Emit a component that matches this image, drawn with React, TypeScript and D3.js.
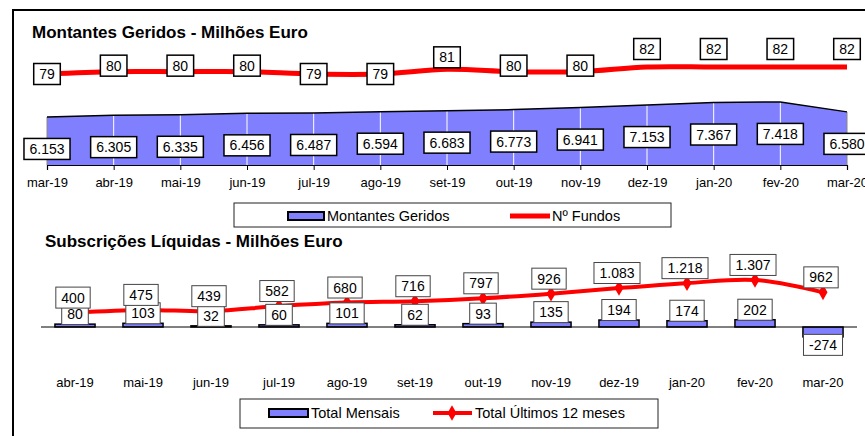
import { useEffect, useRef } from 'react';
import * as d3 from 'd3';

const monthsTop = ["mar-19", "abr-19", "mai-19", "jun-19", "jul-19", "ago-19", "set-19", "out-19", "nov-19", "dez-19", "jan-20", "fev-20", "mar-20"];
const montantesGeridos = [6153, 6305, 6335, 6456, 6487, 6594, 6683, 6773, 6941, 7153, 7367, 7418, 6580];
const numFundos = [79, 80, 80, 80, 79, 79, 81, 80, 80, 82, 82, 82, 82];

const monthsBottom = ["abr-19", "mai-19", "jun-19", "jul-19", "ago-19", "set-19", "out-19", "nov-19", "dez-19", "jan-20", "fev-20", "mar-20"];
const totalMensais = [80, 103, 32, 60, 101, 62, 93, 135, 194, 174, 202, -274];
const totalUltimos12 = [400, 475, 439, 582, 680, 716, 797, 926, 1083, 1218, 1307, 962];

const FONT = "'Liberation Sans', Arial, sans-serif";
const BLUE = "#8080FF";
const RED = "#FF0000";

const pt = d3.formatLocale({ decimal: ",", thousands: ".", grouping: [3], currency: ["", "€"], minus: "-" });
const fmt = pt.format(",d");

export default function App() {
  const svgRef = useRef<SVGSVGElement>(null);

  useEffect(() => {
    if (!svgRef.current) return;
    const svg = d3.select(svgRef.current);
    svg.selectAll("*").remove();

    const labelBox = (g: any, cx: number, cy: number, text: string, stroke: string, sw: number) => {
      const grp = g.append("g");
      const t = grp.append("text")
        .attr("x", cx).attr("y", cy).attr("dy", "0.36em")
        .attr("text-anchor", "middle")
        .attr("font-size", 14).attr("font-family", FONT)
        .text(text);
      const w = (t.node() as SVGTextElement).getComputedTextLength();
      grp.insert("rect", "text")
        .attr("x", cx - w / 2 - 5.5).attr("y", cy - 10.5)
        .attr("width", w + 11).attr("height", 21)
        .attr("fill", "#fff").attr("stroke", stroke).attr("stroke-width", sw);
    };

    // frame
    svg.append("rect").attr("x", 13).attr("y", 10).attr("width", 900).attr("height", 500)
      .attr("fill", "#fff").attr("stroke", "#000").attr("stroke-width", 2);

    // ---------- top chart ----------
    const top = svg.append("g");
    top.append("text").attr("x", 32).attr("y", 38)
      .attr("font-size", 17).attr("font-weight", "bold").attr("font-family", FONT)
      .text("Montantes Geridos - Milhões Euro");

    const x = d3.scalePoint<string>().domain(monthsTop).range([47, 847]);
    const yArea = d3.scaleLinear().domain([2108, 8000]).range([165, 95]);
    const yF = d3.scaleLinear().domain([79, 82]).range([74, 67]);

    const area = d3.area<number>()
      .x((_, i) => x(monthsTop[i])!)
      .y0(yArea(2108))
      .y1(d => yArea(d));
    top.append("path").datum(montantesGeridos).attr("d", area).attr("fill", BLUE);

    // vertical grid lines inside area
    montantesGeridos.forEach((v, i) => {
      const edge = i === 0 || i === montantesGeridos.length - 1;
      top.append("line")
        .attr("x1", x(monthsTop[i])!).attr("x2", x(monthsTop[i])!)
        .attr("y1", yArea(v)).attr("y2", yArea(2108))
        .attr("stroke", edge ? "#888" : "#fff").attr("stroke-width", 1);
    });

    const topLine = d3.line<number>()
      .x((_, i) => x(monthsTop[i])!)
      .y(d => yArea(d));
    top.append("path").datum(montantesGeridos).attr("d", topLine)
      .attr("fill", "none").attr("stroke", "#000").attr("stroke-width", 1.5);

    const ax = top.append("g").attr("transform", `translate(0,${yArea(2108)})`)
      .call(d3.axisBottom(x).tickSize(5).tickPadding(8));
    ax.select(".domain").attr("stroke", "#000").attr("stroke-width", 1.2);
    ax.selectAll(".tick line").attr("stroke", "#000");
    ax.selectAll(".tick text").attr("font-size", 13).attr("font-family", FONT).attr("fill", "#000");

    const fLine = d3.line<number>()
      .x((_, i) => x(monthsTop[i])!)
      .y(d => yF(d))
      .curve(d3.curveCatmullRom.alpha(0.5));
    top.append("path").datum(numFundos).attr("d", fLine)
      .attr("fill", "none").attr("stroke", RED).attr("stroke-width", 5);

    montantesGeridos.forEach((v, i) => {
      labelBox(top, x(monthsTop[i])!, yArea(v) + 32, fmt(v), "#000", 1.5);
    });
    numFundos.forEach((v, i) => {
      labelBox(top, x(monthsTop[i])!, yF(v) - (v - 79) * 6, fmt(v), "#000", 1.5);
    });

    // legend 1
    const lg1 = svg.append("g");
    lg1.append("rect").attr("x", 234).attr("y", 203).attr("width", 437).attr("height", 24)
      .attr("fill", "#fff").attr("stroke", "#222").attr("stroke-width", 1);
    lg1.append("rect").attr("x", 288).attr("y", 212).attr("width", 36).attr("height", 8)
      .attr("fill", BLUE).attr("stroke", "#000").attr("stroke-width", 2);
    lg1.append("text").attr("x", 327).attr("y", 221).attr("font-size", 14.5).attr("font-family", FONT)
      .text("Montantes Geridos");
    lg1.append("line").attr("x1", 510).attr("x2", 550).attr("y1", 216).attr("y2", 216)
      .attr("stroke", RED).attr("stroke-width", 5);
    lg1.append("text").attr("x", 552).attr("y", 221).attr("font-size", 14.5).attr("font-family", FONT)
      .text("Nº Fundos");

    // ---------- bottom chart ----------
    const bot = svg.append("g");
    bot.append("text").attr("x", 45).attr("y", 247)
      .attr("font-size", 17).attr("font-weight", "bold").attr("font-family", FONT)
      .text("Subscrições Líquidas - Milhões Euro");

    const x2 = d3.scaleBand<string>().domain(monthsBottom).range([41, 857])
      .paddingInner(0.41).paddingOuter(0.205);
    const y2 = d3.scaleLinear().domain([-500, 1500]).range([345, 273]);
    const cx2 = (m: string) => x2(m)! + x2.bandwidth() / 2;

    bot.selectAll(".bar").data(totalMensais).enter().append("rect")
      .attr("x", (_, i) => x2(monthsBottom[i])!)
      .attr("y", d => y2(Math.max(0, d)))
      .attr("width", x2.bandwidth())
      .attr("height", d => Math.abs(y2(d) - y2(0)))
      .attr("fill", BLUE).attr("stroke", "#000").attr("stroke-width", 1.5);

    bot.append("line").attr("x1", x2.range()[0]).attr("x2", x2.range()[1])
      .attr("y1", y2(0)).attr("y2", y2(0)).attr("stroke", "#000").attr("stroke-width", 1);

    const ax2 = bot.append("g").attr("transform", `translate(0,${y2(0)})`)
      .call(d3.axisBottom(x2).tickSize(0).tickPadding(51));
    ax2.select(".domain").remove();
    ax2.selectAll(".tick text").attr("font-size", 13).attr("font-family", FONT).attr("fill", "#000");

    const line2 = d3.line<number>()
      .x((_, i) => cx2(monthsBottom[i]))
      .y(d => y2(d))
      .curve(d3.curveCatmullRom.alpha(0.5));
    bot.append("path").datum(totalUltimos12).attr("d", line2)
      .attr("fill", "none").attr("stroke", RED).attr("stroke-width", 4);
    const diamond = d3.symbol().type(d3.symbolDiamond).size(70);
    totalUltimos12.forEach((v, i) => {
      bot.append("path").attr("d", diamond()!)
        .attr("transform", `translate(${cx2(monthsBottom[i])},${y2(v)})`)
        .attr("fill", RED);
    });

    totalMensais.forEach((v, i) => {
      const cy = v >= 0 ? y2(v) - 10 : y2(v) + 8;
      labelBox(bot, cx2(monthsBottom[i]), cy, fmt(v), "#444", 1);
    });
    totalUltimos12.forEach((v, i) => {
      labelBox(bot, cx2(monthsBottom[i]) - 2, y2(v) - 15, fmt(v), "#444", 1);
    });

    // legend 2
    const lg2 = svg.append("g");
    lg2.append("rect").attr("x", 240).attr("y", 399).attr("width", 418).attr("height", 29)
      .attr("fill", "#fff").attr("stroke", "#222").attr("stroke-width", 1);
    lg2.append("rect").attr("x", 269).attr("y", 409).attr("width", 39).attr("height", 8)
      .attr("fill", BLUE).attr("stroke", "#000").attr("stroke-width", 2);
    lg2.append("text").attr("x", 311).attr("y", 418).attr("font-size", 14.5).attr("font-family", FONT)
      .text("Total Mensais");
    lg2.append("line").attr("x1", 433).attr("x2", 472).attr("y1", 413).attr("y2", 413)
      .attr("stroke", RED).attr("stroke-width", 4);
    lg2.append("path").attr("d", diamond()!).attr("transform", "translate(452,413)").attr("fill", RED);
    lg2.append("text").attr("x", 475).attr("y", 418).attr("font-size", 14.5).attr("font-family", FONT)
      .text("Total Últimos 12 meses");
  }, []);

  return (
    <svg
      ref={svgRef}
      width={865}
      height={436}
      style={{ position: 'absolute', left: 0, top: 0, background: '#fff' }}
    />
  );
}
